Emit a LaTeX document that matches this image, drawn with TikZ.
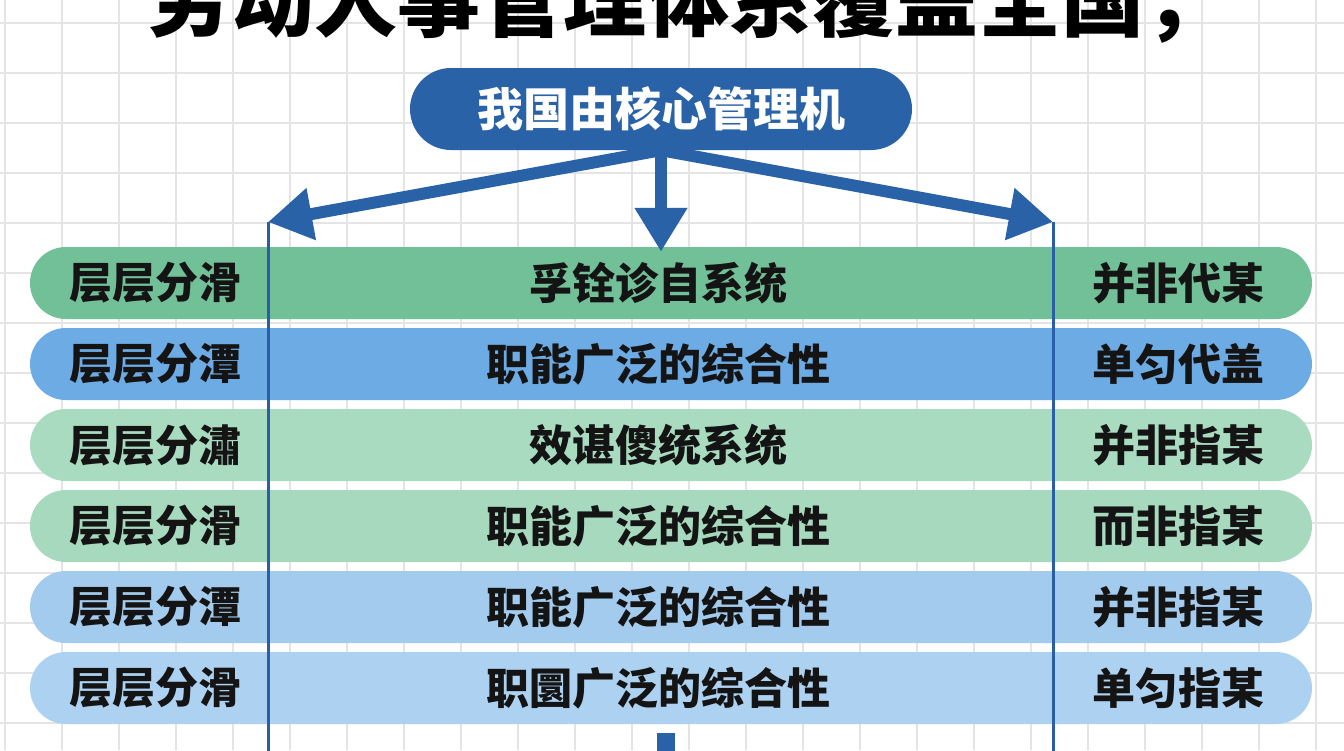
\documentclass[tikz,border=0pt]{standalone}
\usepackage{fontspec}
\setmainfont{Noto Sans CJK SC}
\usetikzlibrary{arrows.meta,positioning}
\definecolor{coreblue}{HTML}{2A62A8}
\definecolor{railblue}{HTML}{2A5FA5}
\definecolor{gridgray}{HTML}{E4E4E4}
\definecolor{bandgreenA}{HTML}{72C098}
\definecolor{bandblueA}{HTML}{6CABE4}
\definecolor{bandgreenB}{HTML}{A8DBC0}
\definecolor{bandgreenC}{HTML}{A6D9BE}
\definecolor{bandblueB}{HTML}{A3CBEE}
\definecolor{bandblueC}{HTML}{ADD2F1}
\tikzstyle{headline} = [font=\fontsize{83}{88}\selectfont\bfseries,text=black,inner sep=0pt]
\tikzstyle{core} = [rectangle,rounded corners=41pt,minimum width=502pt,minimum height=82pt,fill=coreblue,text=white,font=\fontsize{46}{50}\selectfont\bfseries]
\tikzstyle{band} = [rectangle,rounded corners=36pt,minimum width=1282pt,minimum height=72pt,inner sep=0pt]
\tikzstyle{cell} = [text=black!92,font=\fontsize{43}{46}\selectfont\bfseries,inner sep=0pt]
\tikzstyle{branch} = [draw=coreblue,line width=12pt,-{Triangle[length=44pt,width=50pt]}]
\tikzstyle{rail} = [draw=railblue,line width=3pt]

\begin{document}
\begin{tikzpicture}[x=1pt,y=-1pt]
    \useasboundingbox (0,0) rectangle (1344,750);
    \clip (0,0) rectangle (1344,750);
    \fill[white] (0,0) rectangle (1344,750);

    % Grid
    \foreach \x in {5,62,...,1344} \draw[gridgray,line width=1.5pt] (\x,0) -- (\x,750);
    \foreach \y in {23,73,...,750} \draw[gridgray,line width=1.5pt] (0,\y) -- (1344,\y);

    % Title
    \node[headline,anchor=base] (title) at (688,30) {劳动人事管理体系覆盖全国，};

    % Core
    \node[core] (core) at (661,109) {我国由核心管理机};

    % Bands
    \node[band,fill=bandgreenA] (r1) at (671,283) {};
    \node[band,fill=bandblueA,below=8.6pt of r1] (r2) {};
    \node[band,fill=bandgreenB,below=8.6pt of r2] (r3) {};
    \node[band,fill=bandgreenC,below=8.6pt of r3] (r4) {};
    \node[band,fill=bandblueB,below=8.6pt of r4] (r5) {};
    \node[band,fill=bandblueC,below=8.6pt of r5] (r6) {};

    % Left cells
    \node[cell,right=39pt of r1.west] (a1) {层层分滑};
    \node[cell,right=39pt of r2.west] (a2) {层层分潭};
    \node[cell,right=39pt of r3.west] (a3) {层层分潚};
    \node[cell,right=39pt of r4.west] (a4) {层层分滑};
    \node[cell,right=39pt of r5.west] (a5) {层层分潭};
    \node[cell,right=39pt of r6.west] (a6) {层层分滑};

    % Middle cells
    \node[cell] (b1) at ([xshift=-13pt]r1.center) {孚铨诊自系统};
    \node[cell] (b2) at ([xshift=-13pt]r2.center) {职能广泛的综合性};
    \node[cell] (b3) at ([xshift=-13pt]r3.center) {效谌傻统系统};
    \node[cell] (b4) at ([xshift=-13pt]r4.center) {职能广泛的综合性};
    \node[cell] (b5) at ([xshift=-13pt]r5.center) {职能广泛的综合性};
    \node[cell] (b6) at ([xshift=-13pt]r6.center) {职圜广泛的综合性};

    % Right cells
    \node[cell,left=48pt of r1.east] (c1) {并非代某};
    \node[cell,left=48pt of r2.east] (c2) {单匀代盖};
    \node[cell,left=48pt of r3.east] (c3) {并非指某};
    \node[cell,left=48pt of r4.east] (c4) {而非指某};
    \node[cell,left=48pt of r5.east] (c5) {并非指某};
    \node[cell,left=48pt of r6.east] (c6) {单匀指某};

    % Arrows
    \coordinate (tipL) at (268,222);
    \coordinate (tipR) at (1053,222);
    \coordinate (railL) at (268,752);
    \coordinate (railR) at (1053,752);
    \coordinate (stubT) at (666,733);
    \coordinate (stubB) at (666,752);
    \draw[branch] (core.south) -- (tipL);
    \draw[branch] (core.south) -- (tipR);
    \draw[branch] (core.south) -- ([yshift=-5pt]core.south |- r1.north);
    \draw[rail] (tipL) -- (railL);
    \draw[rail] (tipR) -- (railR);
    \draw[draw=coreblue,line width=18pt] (stubT) -- (stubB);
\end{tikzpicture}
\end{document}
